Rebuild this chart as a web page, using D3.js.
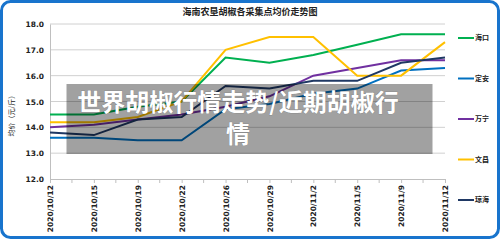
<!DOCTYPE html>
<html><head><meta charset="utf-8">
<script src="https://cdn.jsdelivr.net/npm/d3@7"></script>
<style>html,body{margin:0;padding:0;background:#fff;}svg{display:block;}</style>
</head><body><svg id="c" width="500" height="240"></svg>
<script>
const dates = ["2020/10/12","2020/10/15","2020/10/19","2020/10/22","2020/10/26","2020/10/29","2020/11/2","2020/11/5","2020/11/9","2020/11/12"];
const yTicks = [12,13,14,15,16,17,18];
const seriesNames = ["海口","定安","万宁","文昌","琼海"];
const haikou  = [14.5,14.5,14.8,15.0,16.7,16.5,16.8,17.2,17.6,17.6];
const dingan  = [13.6,13.6,13.5,13.5,14.7,14.9,15.3,15.5,16.2,16.3];
const wanning = [14.0,14.1,14.3,14.5,14.8,15.2,16.0,16.3,16.6,16.6];
const wenchang= [14.2,14.2,14.4,15.0,17.0,17.5,17.5,16.0,16.0,17.3];
const qionghai= [13.8,13.7,14.3,14.4,15.6,15.5,15.8,15.8,16.5,16.7];
const colors = ["#00b050","#0070c0","#7030a0","#ffc000","#1f3864"];
const title = "海南农垦胡椒各采集点均价走势图";
const yTitle = "均价（元/斤）";
const overlayLines = ["世界胡椒行情走势/近期胡椒行","情"];

const svg = d3.select("#c");
const font = "'Noto Sans CJK SC','Noto Sans',sans-serif";
const x = d3.scalePoint().domain(dates).range([50,445]).padding(0);
const y = d3.scaleLinear().domain([12,18]).range([179,24]);

// border
svg.append("rect").attr("x",1.5).attr("y",1.5).attr("width",497).attr("height",236)
  .attr("rx",9).attr("fill","#fff").attr("stroke","#1874cd").attr("stroke-width",3);

// title
svg.append("text").attr("x",250).attr("y",15).attr("text-anchor","middle")
  .attr("font-family",font).attr("font-size",9).attr("font-weight","bold").attr("fill","#222").text(title);

// gridlines
svg.append("g").selectAll("line").data(yTicks.slice(1)).join("line")
  .attr("x1",50).attr("x2",445).attr("y1",d=>y(d)).attr("y2",d=>y(d))
  .attr("stroke","#d0d0d0").attr("stroke-width",1);

// y axis
const ya = svg.append("g").attr("transform","translate(50,0)")
  .call(d3.axisLeft(y).tickValues(yTicks).tickFormat(d3.format(".1f")).tickSize(0).tickPadding(6));
ya.select(".domain").attr("stroke","#bfbfbf");
ya.selectAll("text").attr("font-family","'DejaVu Sans',sans-serif").attr("font-size",7.5).attr("font-weight","bold").attr("fill","#222").attr("dy","0.35em");

// x axis
const xa = svg.append("g").attr("transform","translate(0,179)")
  .call(d3.axisBottom(x).tickSize(4).tickPadding(4));
xa.select(".domain").attr("stroke","#bfbfbf");
xa.selectAll(".tick line").attr("stroke","#bfbfbf");
xa.selectAll("text").attr("font-family","'DejaVu Sans',sans-serif").attr("font-size",7.5).attr("font-weight","bold").attr("fill","#222")
  .attr("transform","rotate(-90)").attr("text-anchor","end").attr("x",-6).attr("y",0).attr("dy","0.35em");
// minor ticks between categories
const mids = dates.slice(1).map((d,i)=> (x(dates[i])+x(d))/2);
svg.append("g").selectAll("line").data(mids).join("line")
  .attr("x1",d=>d).attr("x2",d=>d).attr("y1",179).attr("y2",183).attr("stroke","#bfbfbf");

// y title
svg.append("text").attr("transform","translate(14,114) rotate(-90)").attr("text-anchor","middle")
  .attr("font-family",font).attr("font-size",7).attr("fill","#222").text(yTitle);

// lines
const allSeries = [haikou,dingan,wanning,wenchang,qionghai];
const line = d3.line().x((d,i)=>x(dates[i])).y(d=>y(d));
svg.append("g").selectAll("path").data(allSeries).join("path")
  .attr("d",line).attr("fill","none").attr("stroke",(d,i)=>colors[i]).attr("stroke-width",2);

// legend
const lg = svg.append("g").selectAll("g").data(seriesNames).join("g")
  .attr("transform",(d,i)=>`translate(0,${38+i*40.5})`);
lg.append("line").attr("x1",458).attr("x2",474).attr("stroke",(d,i)=>colors[i]).attr("stroke-width",2);
lg.append("text").attr("x",475).attr("dy","0.35em").attr("font-family",font).attr("font-size",7)
  .attr("font-weight","bold").attr("fill","#222").text(d=>d);

// overlay
svg.append("rect").attr("x",66.5).attr("y",84).attr("width",366).attr("height",70)
  .attr("fill","#000").attr("fill-opacity",0.37);
svg.append("text").attr("text-anchor","middle")
  .attr("font-family",font).attr("font-size",24).attr("font-weight","bold").attr("fill","#fff")
  .style("paint-order","stroke").attr("stroke","rgba(0,0,0,0.15)").attr("stroke-width",1)
  .selectAll("tspan").data(overlayLines).join("tspan")
  .attr("x",238).attr("y",(d,i)=>111+i*32).text(d=>d);
</script></body></html>
